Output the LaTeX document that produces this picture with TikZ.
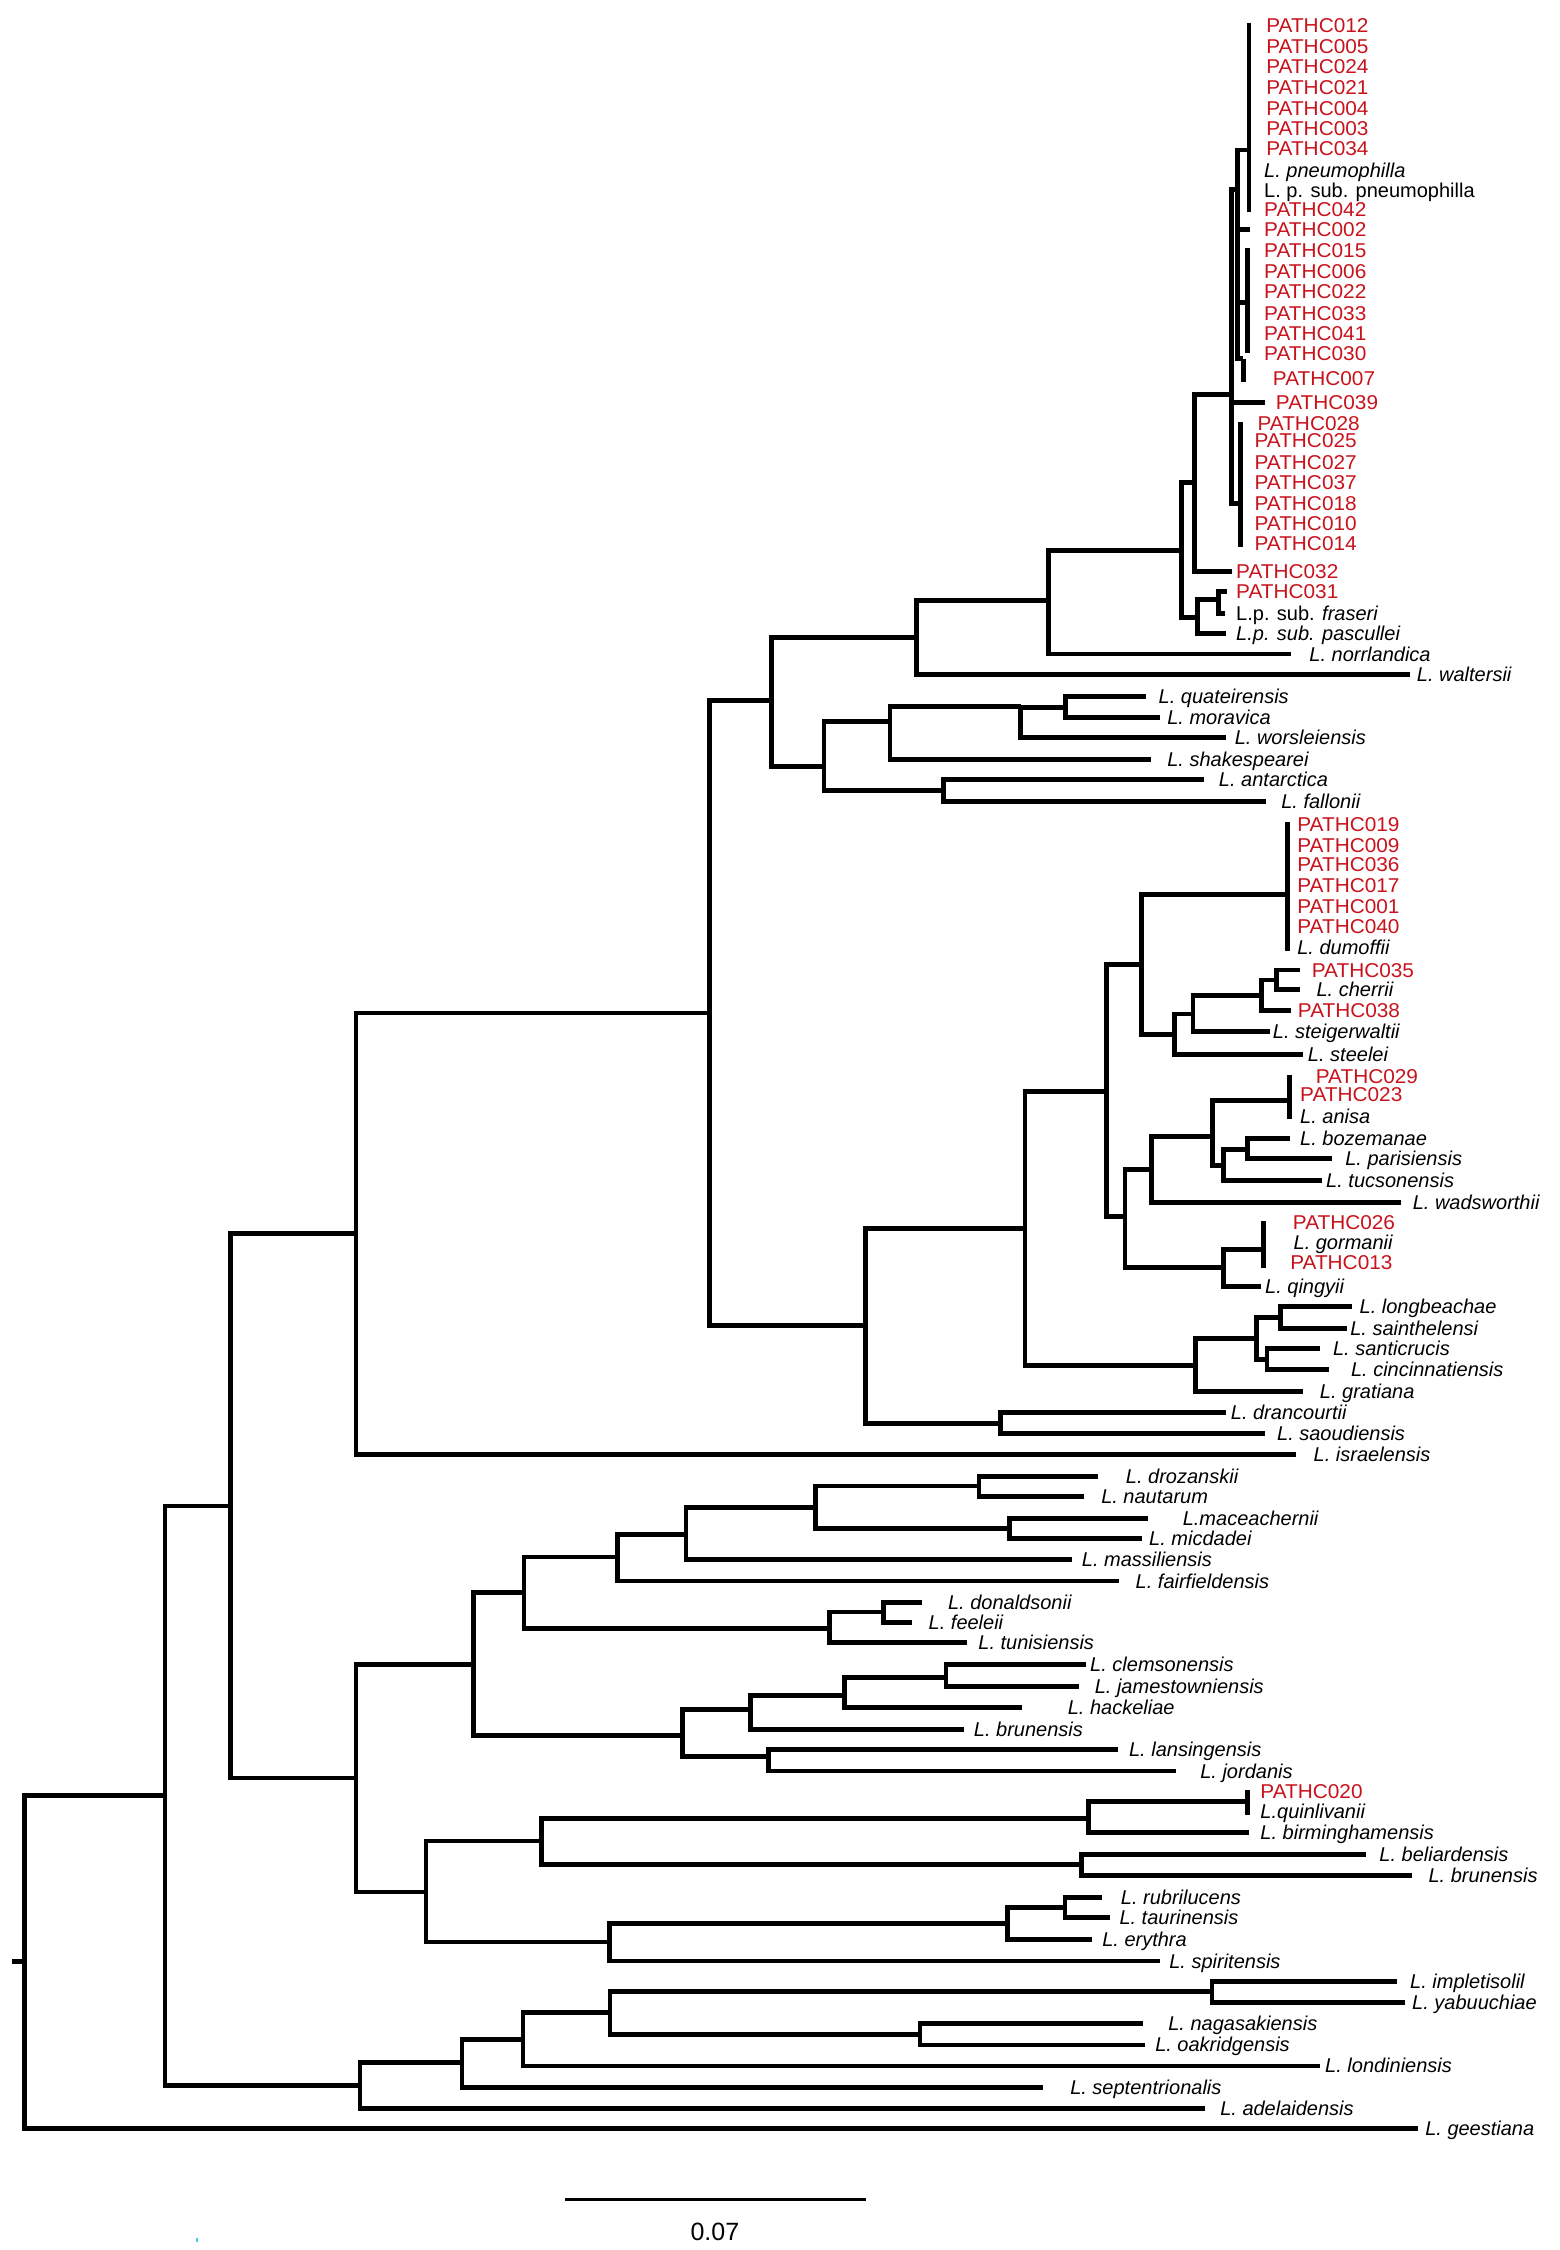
\documentclass[tikz,border=0pt]{standalone}
\usepackage{fontspec}
\setmainfont{Liberation Sans}
\definecolor{pr}{RGB}{200,18,28}
\newcommand\pth[1]{\scalebox{1.04}[1]{PATHC#1}}
\newcommand\lf[6]{\coordinate (#1) at (#2,#3); \node[#5] (#1t) at (#4,#3) {#6};}
\begin{document}
\begin{tikzpicture}[x=1.43554pt,y=-1.43495pt,
  br/.style={line width=4.8pt,line join=miter,line cap=butt},
  lab/.style={anchor=base west,inner sep=0pt,yshift=-7pt,font=\fontsize{20}{24}\selectfont},
  it/.style={lab,font=\fontsize{20}{24}\selectfont\itshape},
  pc/.style={lab,text=pr}]
\useasboundingbox (0,0) rectangle (1086,1568);
% ---------- internal nodes ----------
\coordinate (root0) at (8.4,1367);
\coordinate (R) at (17,1367);
\coordinate (N116) at (115,1251.5);
\coordinate (N160) at (160.5,1049.5);
\coordinate (N251) at (250.8,1453.4);
\coordinate (N248a) at (248,859.5);
\coordinate (N248b) at (248,1239);
\coordinate (N494) at (494.5,706);
\coordinate (N540) at (537.5,488);
\coordinate (N603) at (603,923.7);
\coordinate (N638) at (638.5,444.5);
\coordinate (N574) at (574,534);
\coordinate (N730) at (730.5,418.5);
\coordinate (P1) at (823,383.5);
\coordinate (P2) at (832,336);
\coordinate (P4) at (834,430.5);
\coordinate (P3) at (858,275);
\coordinate (Q) at (862,132);
\coordinate (A) at (870,104.5);
\coordinate (B) at (869,211);
\coordinate (G7) at (866,250);
\coordinate (C) at (864,351);
\coordinate (F) at (849,418);
\coordinate (N620) at (620,503);
\coordinate (N657) at (657,551);
\coordinate (N711) at (711,492.5);
\coordinate (N742) at (742,492.8);
\coordinate (N714) at (714,856);
\coordinate (N697) at (697,992);
\coordinate (N771) at (771,760.5);
\coordinate (N832) at (832.5,951.6);
\coordinate (N795) at (795.3,672);
\coordinate (N784) at (783.7,847.6);
\coordinate (D) at (897,623.5);
\coordinate (N818) at (818,721);
\coordinate (N831) at (831,706.6);
\coordinate (N879) at (879,694);
\coordinate (N889) at (889.4,683);
\coordinate (N802) at (802.3,814.8);
\coordinate (N852b) at (852.2,883.5);
\coordinate (N845) at (844.8,791.8);
\coordinate (E) at (898,766.7);
\coordinate (N852a) at (852.2,812);
\coordinate (N869) at (869.2,801);
\coordinate (Gg) at (880,870.8);
\coordinate (N875) at (875,933);
\coordinate (N892) at (892.2,918.4);
\coordinate (N882) at (882.6,947.2);
\coordinate (N330) at (329.6,1160);
\coordinate (N297) at (296.8,1318.5);
\coordinate (N367) at (365,1110);
\coordinate (N475) at (475.5,1209.3);
\coordinate (N430) at (430.4,1085);
\coordinate (N578) at (577.8,1135);
\coordinate (N478) at (477.8,1069.3);
\coordinate (N568) at (567.9,1050.7);
\coordinate (N682) at (681.9,1035.6);
\coordinate (N703) at (703,1065.4);
\coordinate (N615) at (615.2,1123.4);
\coordinate (N523) at (522.8,1191.2);
\coordinate (N535) at (535.4,1224.2);
\coordinate (N588) at (588.2,1181.5);
\coordinate (N659) at (659,1169.2);
\coordinate (N377) at (377,1283);
\coordinate (N424) at (424.6,1353.3);
\coordinate (N758) at (758,1267.4);
\coordinate (H) at (868.9,1255.5);
\coordinate (N753) at (753.5,1299.5);
\coordinate (N702) at (702,1340.3);
\coordinate (N742b) at (741.9,1329.4);
\coordinate (N322) at (321.8,1437.4);
\coordinate (N364) at (364.3,1421.1);
\coordinate (N425) at (424.9,1402.5);
\coordinate (N844) at (844.3,1388.1);
\coordinate (N641) at (640.9,1417.6);
% ---------- collapsed groups (bars) ----------
\coordinate (Atop) at (870,16);   \coordinate (Abot) at (870,148);
\coordinate (Btop) at (869,173);  \coordinate (Bbot) at (869,246);
\coordinate (G7top) at (866,250); \coordinate (G7bot) at (866,266);
\coordinate (Ctop) at (864,294);  \coordinate (Cbot) at (864,381);
\coordinate (Dtop) at (897,573);  \coordinate (Dbot) at (897,663);
\coordinate (Etop) at (898,749);  \coordinate (Ebot) at (898,780);
\coordinate (Ggtop) at (880,851); \coordinate (Ggbot) at (880,883.5);
\coordinate (Htop) at (868.9,1247.5); \coordinate (Hbot) at (868.9,1265);
\foreach \t/\b in {Atop/Abot,Btop/Bbot,G7top/G7bot,Ctop/Cbot,Dtop/Dbot,Etop/Ebot,Ggtop/Ggbot,Htop/Hbot}
  \draw[br] (\t) -- (\b);
% ---------- leaves ----------
\node[pc] (p012) at (882,18.1) {\pth{012}};
\node[pc] (p005) at (882,32.5) {\pth{005}};
\node[pc] (p024) at (882,46.4) {\pth{024}};
\node[pc] (p021) at (882,60.8) {\pth{021}};
\node[pc] (p004) at (882,75.5) {\pth{004}};
\node[pc] (p003) at (882,89.4) {\pth{003}};
\node[pc] (p034) at (882,103.8) {\pth{034}};
\node[it] (lpn) at (880.5,118.9) {L. pneumophilla};
\node[lab] (lpsp) at (880.5,132.8) {L. p. sub. pneumophilla};
\node[pc] (p042) at (880.5,146.3) {\pth{042}};
\lf{l002}{871}{160.2}{880.5}{pc}{\pth{002}}
\node[pc] (p015) at (880.5,174.6) {\pth{015}};
\node[pc] (p006) at (880.5,189.3) {\pth{006}};
\node[pc] (p022) at (880.5,203.2) {\pth{022}};
\node[pc] (p033) at (880.5,218.3) {\pth{033}};
\node[pc] (p041) at (880.5,232.2) {\pth{041}};
\node[pc] (p030) at (880.5,246.6) {\pth{030}};
\node[pc] (p007) at (886.6,264) {\pth{007}};
\lf{l039}{881}{280.5}{888.7}{pc}{\pth{039}}
\node[pc] (p028) at (875.9,295.4) {\pth{028}};
\node[pc] (p025) at (873.8,307.2) {\pth{025}};
\node[pc] (p027) at (873.8,322.3) {\pth{027}};
\node[pc] (p037) at (873.8,336) {\pth{037}};
\node[pc] (p018) at (873.8,350.6) {\pth{018}};
\node[pc] (p010) at (873.8,364.6) {\pth{010}};
\node[pc] (p014) at (873.8,378.5) {\pth{014}};
\lf{l032}{858}{398.2}{861}{pc}{\pth{032}}
\lf{l031}{855}{412.2}{861}{pc}{\pth{031}}
\lf{lfra}{853}{427.3}{861}{lab}{L.p. sub. \textit{fraseri}}
\lf{lpas}{854}{441.7}{861}{it}{L.p. sub. pascullei}
\lf{lnor}{899}{455.8}{912}{it}{L. norrlandica}
\lf{lwal}{982}{470.2}{986.9}{it}{L. waltersii}
\lf{lqua}{798}{485.5}{807}{it}{L. quateirensis}
\lf{lmor}{808}{500}{813}{it}{L. moravica}
\lf{lwor}{854}{514}{860}{it}{L. worsleiensis}
\lf{lsha}{802}{529.5}{813}{it}{L. shakespearei}
\lf{lant}{839}{543}{849}{it}{L. antarctica}
\lf{lfal}{881.6}{558.5}{892.4}{it}{L. fallonii}
\node[pc] (p019) at (903.6,574.7) {\pth{019}};
\node[pc] (p009) at (903.6,589) {\pth{009}};
\node[pc] (p036) at (903.6,602.6) {\pth{036}};
\node[pc] (p017) at (903.6,617) {\pth{017}};
\node[pc] (p001) at (903.6,632) {\pth{001}};
\node[pc] (p040) at (903.6,645.5) {\pth{040}};
\node[it] (ldum) at (903.6,660.4) {L. dumoffii};
\lf{l035}{905.6}{676}{913.7}{pc}{\pth{035}}
\lf{lche}{905.6}{689.7}{917}{it}{L. cherrii}
\lf{l038}{899}{704}{904}{pc}{\pth{038}}
\lf{lste}{884.7}{719}{886.6}{it}{L. steigerwaltii}
\lf{lstl}{908}{735}{911}{it}{L. steelei}
\node[pc] (p029) at (916.5,750) {\pth{029}};
\node[pc] (p023) at (905.6,762.8) {\pth{023}};
\node[it] (lani) at (905.6,777.9) {L. anisa};
\lf{lboz}{898.7}{793.5}{905.6}{it}{L. bozemanae}
\lf{lpar}{927.7}{807.6}{937}{it}{L. parisiensis}
\lf{ltuc}{920.7}{822.5}{923.7}{it}{L. tucsonensis}
\lf{lwad}{975.7}{837.8}{984}{it}{L. wadsworthii}
\node[pc] (p026) at (900.5,851.7) {\pth{026}};
\node[it] (lgor) at (901,866) {L. gormanii};
\node[pc] (p013) at (898.7,880) {\pth{013}};
\lf{lqin}{878.2}{896.3}{881.2}{it}{L. qingyii}
\lf{llon}{942}{910.7}{947}{it}{L. longbeachae}
\lf{lsai}{938.6}{926}{940.5}{it}{L. sainthelensi}
\lf{lsan}{919.3}{940}{928.5}{it}{L. santicrucis}
\lf{lcin}{926}{954.4}{941}{it}{L. cincinnatiensis}
\lf{lgra}{908}{969.5}{919.3}{it}{L. gratiana}
\lf{ldra}{854}{984.5}{857.3}{it}{L. drancourtii}
\lf{lsao}{881}{999}{889.5}{it}{L. saoudiensis}
\lf{lisr}{903}{1013.6}{915}{it}{L. israelensis}
\lf{ldro}{765.2}{1028.7}{784.2}{it}{L. drozanskii}
\lf{lnau}{755.3}{1043}{767}{it}{L. nautarum}
\lf{lmac}{800}{1058.2}{823.8}{it}{L.maceachernii}
\lf{lmic}{795.4}{1072.3}{800.4}{it}{L. micdadei}
\lf{lmas}{746.4}{1086.7}{753.5}{it}{L. massiliensis}
\lf{lfai}{779.7}{1101.8}{791}{it}{L. fairfieldensis}
\lf{ldon}{642.2}{1116.5}{660.3}{it}{L. donaldsonii}
\lf{lfee}{635.5}{1130.8}{646.8}{it}{L. feeleii}
\lf{ltun}{673.8}{1144.8}{681.4}{it}{L. tunisiensis}
\lf{lcle}{756.3}{1159.9}{759.3}{it}{L. clemsonensis}
\lf{ljam}{751.7}{1175.4}{762.5}{it}{L. jamestowniensis}
\lf{lhac}{712}{1190}{743.7}{it}{L. hackeliae}
\lf{lbru}{671.6}{1205.2}{678.3}{it}{L. brunensis}
\lf{llan}{778.8}{1219.1}{786.4}{it}{L. lansingensis}
\lf{ljor}{819.3}{1234.2}{836}{it}{L. jordanis}
\node[pc] (p020) at (877.9,1248.8) {\pth{020}};
\node[it] (lqui) at (877.9,1262.7) {L.quinlivanii};
\lf{lbir}{869.8}{1277.1}{877.9}{it}{L. birminghamensis}
\lf{lbel}{951.8}{1292.2}{960.8}{it}{L. beliardensis}
\lf{lbrb}{983.4}{1306.9}{995}{it}{L. brunensis}
\lf{lrub}{767.7}{1322.4}{780.7}{it}{L. rubrilucens}
\lf{ltau}{772.9}{1336.4}{779.7}{it}{L. taurinensis}
\lf{lery}{760.7}{1351.5}{767.7}{it}{L. erythra}
\lf{lspi}{808.1}{1366.6}{814.4}{it}{L. spiritensis}
\lf{limp}{973.2}{1380.9}{982.2}{it}{L. impletisolil}
\lf{lyab}{978.8}{1395.6}{983.6}{it}{L. yabuuchiae}
\lf{lnag}{796.2}{1410.2}{813.7}{it}{L. nagasakiensis}
\lf{loak}{797.6}{1425.1}{804.6}{it}{L. oakridgensis}
\lf{llnd}{919.5}{1439.7}{923}{it}{L. londiniensis}
\lf{lsep}{726.6}{1454.8}{745.4}{it}{L. septentrionalis}
\lf{lade}{839.4}{1469.4}{849.9}{it}{L. adelaidensis}
\lf{lgee}{988}{1483.3}{992.7}{it}{L. geestiana}
% ---------- connectors ----------
\draw[br] (root0) -- (R);
\foreach \p/\c in {R/N116,R/lgee,N116/N160,N116/N251,N160/N248a,N160/N248b,
  N248a/N494,N248a/lisr,N494/N540,N494/N603,N540/N638,N540/N574,
  N638/N730,N638/lwal,N730/P1,N730/lnor,P1/P2,P1/P4,P2/P3,P2/l032,
  P3/Q,P3/l039,P3/C,Q/A,Q/l002,Q/B,Q/G7,P4/F,P4/lpas,F/l031,F/lfra,
  N574/N620,N574/N657,N620/N711,N620/lsha,N711/N742,N711/lwor,N742/lqua,N742/lmor,
  N657/lant,N657/lfal,
  N603/N714,N603/N697,N697/ldra,N697/lsao,N714/N771,N714/N832,
  N771/N795,N771/N784,N795/D,N795/N818,N818/N831,N818/lstl,N831/N879,N831/lste,
  N879/N889,N879/l038,N889/l035,N889/lche,
  N784/N802,N784/N852b,N802/N845,N802/lwad,N845/E,N845/N852a,N852a/N869,N852a/ltuc,
  N869/lboz,N869/lpar,N852b/Gg,N852b/lqin,
  N832/N875,N832/lgra,N875/N892,N875/N882,N892/llon,N892/lsai,N882/lsan,N882/lcin,
  N248b/N330,N248b/N297,N330/N367,N330/N475,N367/N430,N367/N578,N430/N478,N430/lfai,
  N478/N568,N478/lmas,N568/N682,N568/N703,N682/ldro,N682/lnau,N703/lmac,N703/lmic,
  N578/N615,N578/ltun,N615/ldon,N615/lfee,
  N475/N523,N475/N535,N523/N588,N523/lbru,N588/N659,N588/lhac,N659/lcle,N659/ljam,
  N535/llan,N535/ljor,
  N297/N377,N297/N424,N377/N758,N377/N753,N758/H,N758/lbir,N753/lbel,N753/lbrb,
  N424/N702,N424/lspi,N702/N742b,N702/lery,N742b/lrub,N742b/ltau,
  N251/N322,N251/lade,N322/N364,N322/lsep,N364/N425,N364/llnd,N425/N844,N425/N641,
  N844/limp,N844/lyab,N641/lnag,N641/loak}
  \draw[br] (\p) |- (\c);
% ---------- scale bar ----------
\coordinate (sb1) at (393.6,1533);
\coordinate (sb2) at (603.3,1533);
\draw[line width=3pt] (sb1) -- (sb2);
\node[font=\fontsize{25}{30}\selectfont,inner sep=0pt] (sbl) at (498,1555.4) {0.07};
\fill[cyan!70] (136.5,1559.5) rectangle (138,1562.5);
\end{tikzpicture}
\end{document}
